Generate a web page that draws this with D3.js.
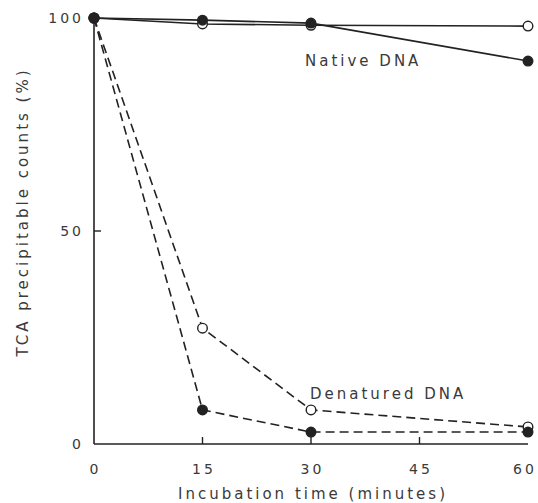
<!DOCTYPE html>
<html>
<head>
<meta charset="UTF-8">
<style>
  body { margin: 0; background: #fff; }
  text { font-family: "DejaVu Sans", sans-serif; fill: #3a3a3a; letter-spacing: 3px; }
</style>
</head>
<body>
<svg id="chart" width="538" height="503"></svg>
<script src="https://d3js.org/d3.v7.min.js"></script>
<script>
// data
var times = [0, 15, 30, 60];
var nativeOpen = [100, 98.6, 98.3, 98.1];
var nativeFilled = [100, 99.5, 98.8, 89.9];
var denatOpen = [100, 27.2, 8.0, 4.0];
var denatFilled = [100, 8.0, 2.8, 2.8];
var xTicks = [0, 15, 30, 45, 60];
var yTicks = [0, 50, 100];

var svg = d3.select("#chart");

var x = d3.scaleLinear().domain([0, 60]).range([94, 528]);
var y = d3.scaleLinear().domain([0, 100]).range([444, 18]);

// axes
svg.append("line").attr("x1", x(0)).attr("x2", x(60)).attr("y1", y(0)).attr("y2", y(0))
  .attr("stroke", "#222").attr("stroke-width", 1.6);
svg.append("line").attr("x1", x(0)).attr("x2", x(0)).attr("y1", y(0)).attr("y2", y(100))
  .attr("stroke", "#222").attr("stroke-width", 1.6);

// inward ticks
svg.selectAll(".xt").data(xTicks.filter(function(d){ return d > 0 && d < 60; })).enter().append("line")
  .attr("x1", function(d){ return x(d); }).attr("x2", function(d){ return x(d); })
  .attr("y1", y(0)).attr("y2", y(0) - 7)
  .attr("stroke", "#222").attr("stroke-width", 1.4);
svg.append("line").attr("x1", x(0)).attr("x2", x(0) + 7).attr("y1", y(50)).attr("y2", y(50))
  .attr("stroke", "#222").attr("stroke-width", 1.4);

svg.selectAll(".xl").data(xTicks).enter().append("text")
  .attr("x", function(d){ return d === 60 ? x(d) - 3 : x(d) + 1.5; }).attr("y", 474)
  .attr("text-anchor", "middle").attr("font-size", 14)
  .text(function(d){ return d; });
svg.selectAll(".yl").data(yTicks).enter().append("text")
  .attr("x", 84).attr("y", function(d){ return y(d) + 5; })
  .attr("text-anchor", "end").attr("font-size", 14)
  .text(function(d){ return d; });

svg.append("text").attr("x", 313).attr("y", 499).attr("text-anchor", "middle")
  .attr("font-size", 15).text("Incubation time (minutes)");
svg.append("text").attr("transform", "translate(28,212) rotate(-90)").attr("text-anchor", "middle")
  .attr("font-size", 15).text("TCA precipitable counts (%)");

var line = d3.line().x(function(d){ return x(d[0]); }).y(function(d){ return y(d[1]); });

function series(vals, dashed, filled) {
  var pts = times.map(function(t, i){ return [t, vals[i]]; });
  svg.append("path").datum(pts).attr("d", line).attr("fill", "none")
    .attr("stroke", "#222").attr("stroke-width", 1.6)
    .attr("stroke-dasharray", dashed ? "9,5" : null);
  svg.selectAll(null).data(pts).enter().append("circle")
    .attr("cx", function(d){ return x(d[0]); }).attr("cy", function(d){ return y(d[1]); })
    .attr("r", 4.8).attr("fill", filled ? "#222" : "#fff")
    .attr("stroke", "#222").attr("stroke-width", 1.4);
}

series(denatOpen, true, false);
series(denatFilled, true, true);
series(nativeOpen, false, false);
series(nativeFilled, false, true);

svg.append("text").attr("x", 305).attr("y", 66).attr("font-size", 15).text("Native DNA");
svg.append("text").attr("x", 310).attr("y", 399).attr("font-size", 15).text("Denatured DNA");
</script>
</body>
</html>
